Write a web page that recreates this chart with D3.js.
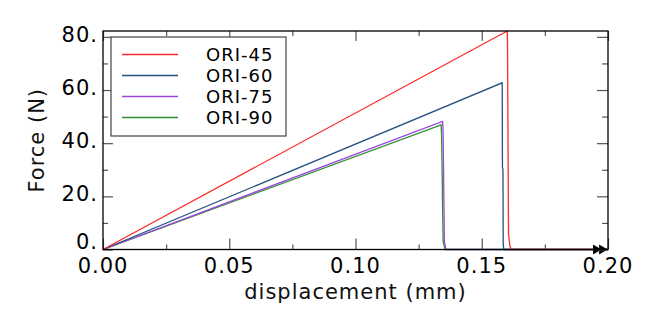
<!DOCTYPE html>
<html>
<head>
<meta charset="utf-8">
<script src="https://cdn.jsdelivr.net/npm/d3@7/dist/d3.min.js"></script>
<style>
  body { margin: 0; background: #fff; }
  text { font-family: "DejaVu Sans", Verdana, sans-serif; letter-spacing: 1px; }
</style>
</head>
<body>
<script>
// series: displacement (mm) / force (N)
const names = ["ORI-45", "ORI-60", "ORI-75", "ORI-90"];
const colors = ["#ff2a2a", "#24517f", "#9b45e0", "#2e8f2e"];

const ori45x = [0, 0.1601, 0.1602, 0.1606, 0.1611, 0.1617, 0.2];
const ori45y = [0, 82.2, 78, 6, 1.5, 0, 0];
const ori60x = [0, 0.1581, 0.1582, 0.1584, 0.1585, 0.1587, 0.2];
const ori60y = [0, 62.7, 31, 30, 2, 0, 0];
const ori75x = [0, 0.1345, 0.1347, 0.1352, 0.1358, 0.2];
const ori75y = [0, 48.2, 44, 3, 0, 0];
const ori90x = [0, 0.1339, 0.1341, 0.1347, 0.1355, 0.2];
const ori90y = [0, 46.9, 43, 3, 0, 0];

const xTicks = [0, 0.05, 0.10, 0.15, 0.20];
const xLabels = ["0.00", "0.05", "0.10", "0.15", "0.20"];
const xMinor = [0.025, 0.075, 0.125, 0.175];
const yTicks = [0, 20, 40, 60, 80];
const yLabels = ["0.", "20.", "40.", "60.", "80."];
const yMinor = [10, 30, 50, 70];
const arrowX = [0.1952, 0.1976];

const xs = [ori45x, ori60x, ori75x, ori90x];
const ys = [ori45y, ori60y, ori75y, ori90y];

const W = 660, H = 331;
const margin = {top: 31, right: 52, bottom: 81.5, left: 103};
const width = W - margin.left - margin.right,
      height = H - margin.top - margin.bottom;

const x = d3.scaleLinear().domain([0, 0.2]).range([0, width]);
const y = d3.scaleLinear().domain([0, 82.2]).range([height, 0]);

const svg = d3.select("body").append("svg")
  .attr("width", W).attr("height", H)
  .append("g")
  .attr("transform", "translate(" + margin.left + "," + margin.top + ")");

// curves
const line = d3.line().x(d => x(d[0])).y(d => y(d[1]));
[3, 2, 1, 0].forEach(i => {
  const pts = xs[i].map((v, j) => [v, ys[i][j]]);
  svg.append("path")
    .datum(pts)
    .attr("d", line)
    .attr("fill", "none")
    .attr("stroke", colors[i])
    .attr("stroke-width", 1.3);
});

// end arrows
svg.selectAll(".arr").data(arrowX).enter().append("path")
  .attr("class", "arr")
  .attr("d", d3.symbol().type(d3.symbolTriangle).size(42))
  .attr("transform", d => "translate(" + x(d) + "," + y(0) + ") rotate(90)")
  .attr("fill", "#000");

// frame + inward ticks on all sides
const tickCol = "#555";
const tk = (sel, axis, sz) => sel.call(axis.tickSize(sz).tickFormat(""))
  .call(g => g.select(".domain").remove())
  .call(g => g.selectAll("line").attr("stroke", tickCol).attr("stroke-width", 1.2));

const gx = svg.append("g").attr("transform", "translate(0," + height + ")");
tk(gx.append("g"), d3.axisTop(x).tickValues(xTicks), 11);
tk(gx.append("g"), d3.axisTop(x).tickValues(xMinor), 5);
tk(svg.append("g"), d3.axisBottom(x).tickValues(xTicks), 10);
tk(svg.append("g"), d3.axisBottom(x).tickValues(xMinor), 5);
tk(svg.append("g"), d3.axisRight(y).tickValues(yTicks), 10);
tk(svg.append("g"), d3.axisRight(y).tickValues(yMinor), 5);
const gr = svg.append("g").attr("transform", "translate(" + width + ",0)");
tk(gr.append("g"), d3.axisLeft(y).tickValues(yTicks), 11);
tk(gr.append("g"), d3.axisLeft(y).tickValues(yMinor), 6);

svg.append("rect")
  .attr("width", width).attr("height", height)
  .attr("fill", "none").attr("stroke", "#000").attr("stroke-width", 1.3);

// labels
svg.selectAll(".xl").data(xTicks).enter().append("text")
  .attr("x", d => x(d)).attr("y", height + 23)
  .attr("text-anchor", "middle").attr("font-size", 21)
  .text((d, i) => xLabels[i]);

svg.selectAll(".yl").data(yTicks).enter().append("text")
  .attr("x", -5).attr("y", d => d === 0 ? y(d) - 0.5 : y(d) + 5)
  .attr("text-anchor", "end").attr("font-size", 21)
  .text((d, i) => yLabels[i]);

svg.append("text")
  .attr("x", width / 2).attr("y", height + 49.5)
  .attr("text-anchor", "middle").attr("font-size", 21)
  .attr("fill", "#111")
  .text("displacement (mm)");

svg.append("text")
  .attr("transform", "translate(" + (-59) + "," + (height / 2) + ") rotate(-90)")
  .attr("text-anchor", "middle").attr("font-size", 21)
  .attr("fill", "#111")
  .text("Force (N)");

// legend
const lg = svg.append("g").attr("transform", "translate(8,6)");
lg.append("rect").attr("width", 175).attr("height", 99)
  .attr("fill", "#fff").attr("stroke", "#444").attr("stroke-width", 1.2);
names.forEach((n, i) => {
  const yy = 17.5 + i * 21;
  lg.append("line").attr("x1", 11).attr("x2", 67).attr("y1", yy).attr("y2", yy)
    .attr("stroke", colors[i]).attr("stroke-width", 1.3);
  lg.append("text").attr("x", 95).attr("y", yy + 6)
    .attr("font-size", 18).text(n);
});
</script>
</body>
</html>
